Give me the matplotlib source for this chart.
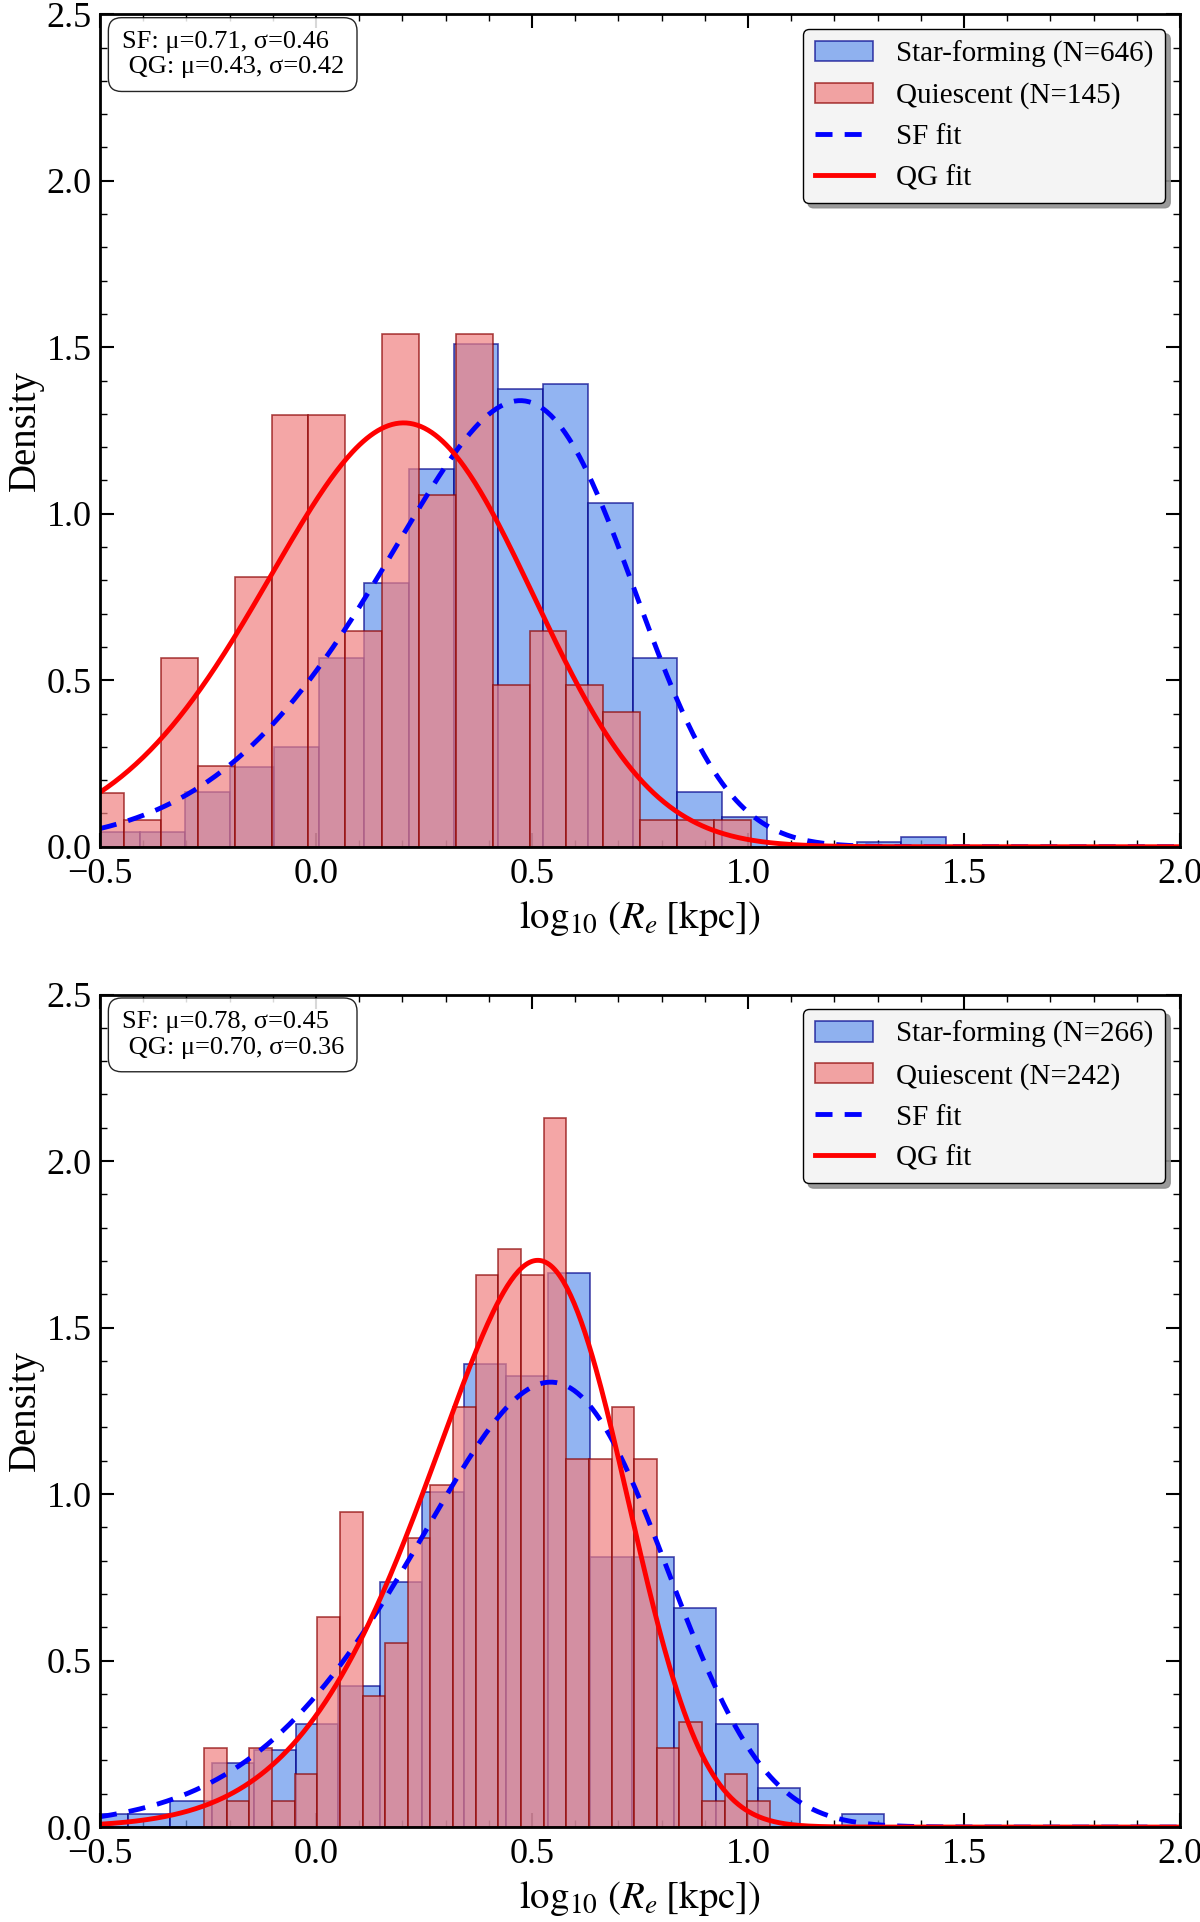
import math
import matplotlib
matplotlib.use("Agg")
import matplotlib.pyplot as plt
import numpy as np
from matplotlib.ticker import MultipleLocator

plt.rcParams['font.family'] = ['Liberation Serif', 'DejaVu Serif']
plt.rcParams['mathtext.fontset'] = 'stix'

# ---- values ----
# bins: (first edge, last edge, number of bins), heights are densities

# upper panel
top_sf_bins = (-0.511, 1.459, 19)
top_sf_density = [0.045, 0.045, 0.164, 0.239, 0.299, 0.568, 0.792, 1.135, 1.509,
                  1.374, 1.389, 1.031, 0.568, 0.164, 0.090, 0.0, 0.0, 0.015, 0.030]
top_qg_bins = (-0.529, 1.006, 18)
top_qg_density = [0.162, 0.081, 0.568, 0.243, 0.811, 1.298, 1.298, 0.649, 1.541,
                  1.055, 1.541, 0.487, 0.649, 0.487, 0.406, 0.081, 0.081, 0.081]
top_counts = (646, 145)
top_fit_sf = (0.71, 0.46, -2.3)   # loc, scale, skewness
top_fit_qg = (0.43, 0.42, -1.4)

# lower panel
bot_sf_bins = (-0.532, 1.315, 19)
bot_sf_density = [0.039, 0.039, 0.077, 0.193, 0.232, 0.309, 0.425, 0.735, 1.005,
                  1.392, 1.353, 1.663, 0.812, 0.812, 0.657, 0.309, 0.116, 0.0, 0.039]
bot_qg_bins = (-0.259, 1.051, 25)
bot_qg_density = [0.237, 0.079, 0.237, 0.079, 0.158, 0.631, 0.947, 0.394, 0.552,
                  0.868, 1.026, 1.262, 1.657, 1.736, 1.657, 2.130, 1.105, 1.105,
                  1.262, 1.105, 0.237, 0.316, 0.079, 0.158, 0.079]
bot_counts = (266, 242)
bot_fit_sf = (0.78, 0.45, -2.1)
bot_fit_qg = (0.70, 0.36, -2.25)

erf = np.vectorize(math.erf)


def skewnorm_pdf(x, loc, scale, a):
    z = (x - loc) / scale
    phi = np.exp(-0.5 * z ** 2) / np.sqrt(2 * np.pi)
    cdf = 0.5 * (1 + erf(a * z / np.sqrt(2)))
    return 2.0 / scale * phi * cdf


def draw_panel(ax, sf_bins, sf_dens, qg_bins, qg_dens, counts, fit_sf, fit_qg):
    e = np.linspace(sf_bins[0], sf_bins[1], sf_bins[2] + 1)
    ax.bar(e[:-1], sf_dens, width=np.diff(e), align='edge', color='cornflowerblue',
           alpha=0.7, edgecolor='darkblue', linewidth=1.2,
           label=f'Star-forming (N={counts[0]})')
    e = np.linspace(qg_bins[0], qg_bins[1], qg_bins[2] + 1)
    ax.bar(e[:-1], qg_dens, width=np.diff(e), align='edge', color='lightcoral',
           alpha=0.7, edgecolor='darkred', linewidth=1.2,
           label=f'Quiescent (N={counts[1]})')

    x = np.linspace(-0.5, 2.0, 600)
    ax.plot(x, skewnorm_pdf(x, *fit_sf), color='blue', ls=(0, (3.5, 2.5)), lw=3.5,
            label='SF fit')
    ax.plot(x, skewnorm_pdf(x, *fit_qg), color='red', lw=3.5, label='QG fit')

    txt = (f'SF: μ={fit_sf[0]:.2f}, σ={fit_sf[1]:.2f}\n'
           f' QG: μ={fit_qg[0]:.2f}, σ={fit_qg[1]:.2f}')
    ax.text(0.02, 0.98, txt, transform=ax.transAxes, va='top', ha='left', fontsize=19,
            bbox=dict(boxstyle='round,pad=0.5', facecolor='white', edgecolor='black',
                      alpha=0.85))

    h, l = ax.get_legend_handles_labels()
    order = [2, 3, 0, 1]
    ax.legend([h[i] for i in order], [l[i] for i in order], loc='upper right',
              fontsize=21, facecolor='#f4f4f4', edgecolor='black', framealpha=1,
              shadow={'ox': 3.5, 'oy': -3.5, 'facecolor': '#8f8f8f',
                      'edgecolor': '#8f8f8f', 'alpha': 0.9})

    ax.set_xlim(-0.5, 2.0)
    ax.set_ylim(0, 2.5)
    ax.xaxis.set_major_locator(MultipleLocator(0.5))
    ax.xaxis.set_minor_locator(MultipleLocator(0.1))
    ax.yaxis.set_major_locator(MultipleLocator(0.5))
    ax.yaxis.set_minor_locator(MultipleLocator(0.1))
    ax.tick_params(which='both', direction='in', top=True, right=True, labelsize=26)
    ax.tick_params(which='major', length=10, width=1.5)
    ax.tick_params(which='minor', length=5, width=1.0)
    ax.tick_params(axis='x', which='major', pad=8)
    ax.tick_params(axis='y', which='major', pad=6)
    for s in ax.spines.values():
        s.set_linewidth(2)
    ax.set_axisbelow(True)
    ax.set_xlabel(r'$\log_{10}\,\left(R_e\;[\mathrm{kpc}]\right)$', fontsize=28,
                  labelpad=6)
    ax.set_ylabel('Density', fontsize=28, labelpad=2)


fig, (ax1, ax2) = plt.subplots(2, 1, figsize=(12, 19.22), dpi=100)
fig.subplots_adjust(left=0.0833, right=0.9833, top=0.9926, bottom=0.0494, hspace=0.1775)

draw_panel(ax1, top_sf_bins, top_sf_density, top_qg_bins, top_qg_density,
           top_counts, top_fit_sf, top_fit_qg)
draw_panel(ax2, bot_sf_bins, bot_sf_density, bot_qg_bins, bot_qg_density,
           bot_counts, bot_fit_sf, bot_fit_qg)

fig.savefig('out.png', dpi=100)
